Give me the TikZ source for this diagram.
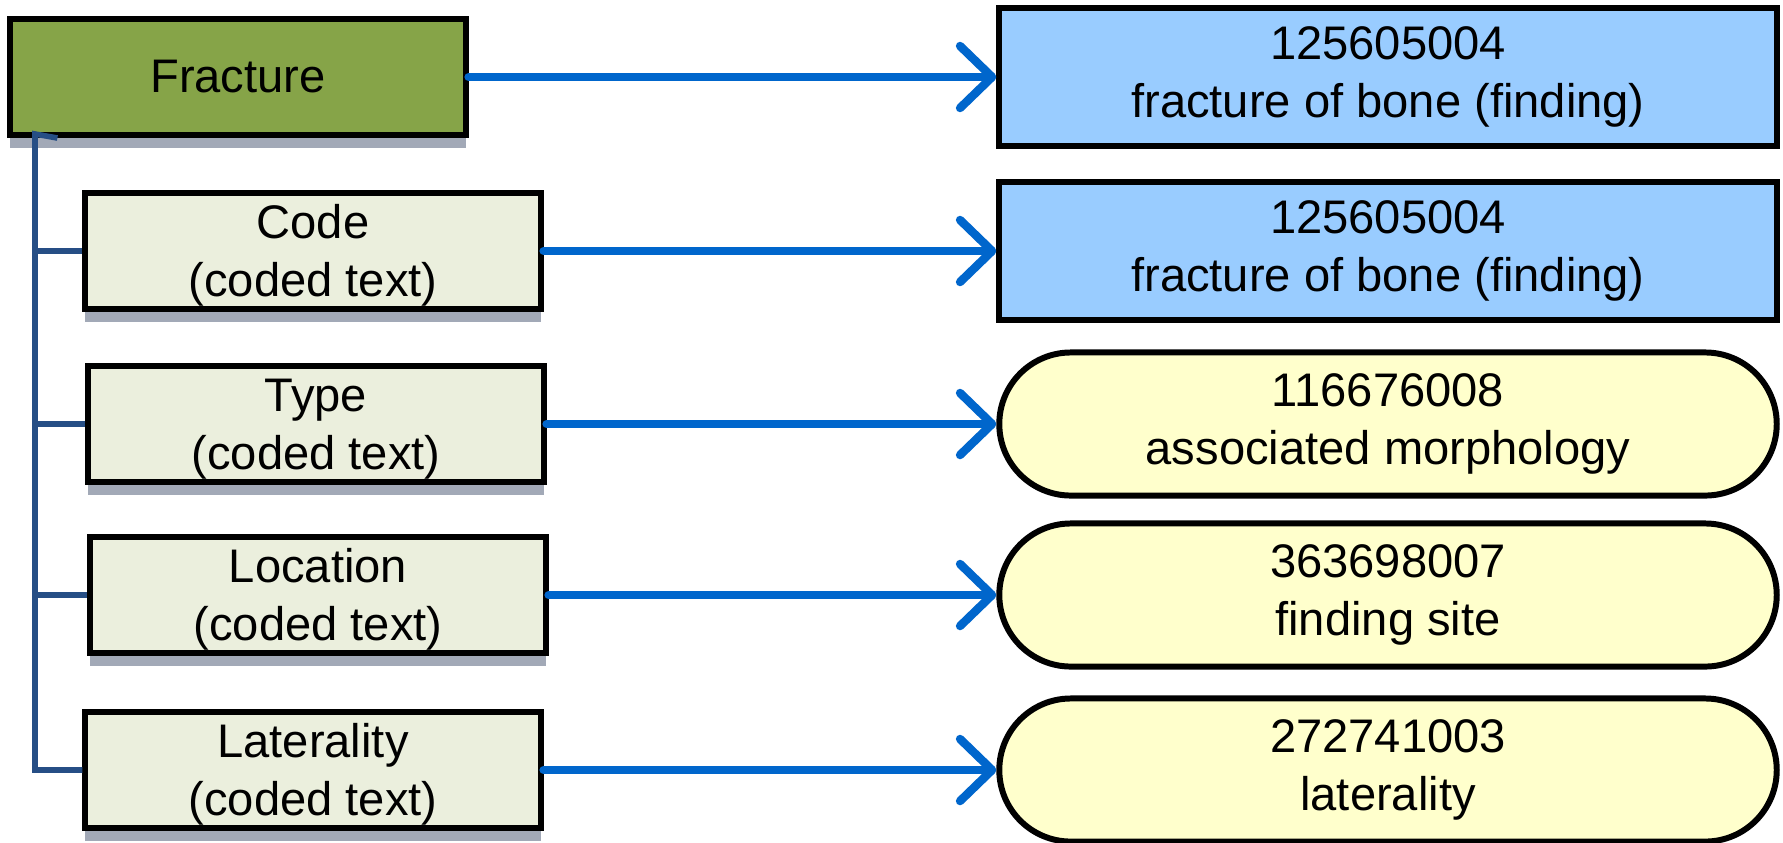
\documentclass[tikz,border=0pt]{standalone}
\usepackage{fontspec}
\setmainfont{Liberation Sans}
\usetikzlibrary{arrows.meta,shapes.misc,shadows}

\definecolor{fracgreen}{HTML}{86A448}
\definecolor{attrfill}{HTML}{EBEFDD}
\definecolor{conceptblue}{HTML}{99CCFF}
\definecolor{relyellow}{HTML}{FFFFCC}
\definecolor{boxshadow}{HTML}{A2A9B7}
\definecolor{treeblue}{HTML}{264E85}
\definecolor{linkblue}{HTML}{0066CC}

% first-line strut that lowers two-line labels a little
\newcommand{\lowstrut}{\rule{0pt}{12pt}}

\tikzset{
  labelfont/.style={font=\fontsize{13.4}{16.6}\selectfont, align=center, text=black},
  leftbox/.style={labelfont, rectangle, draw=black, line width=1.7pt,
    minimum width=4.55cm, minimum height=1.16cm, inner sep=0pt,
    drop shadow={shadow xshift=0pt, shadow yshift=-0.13cm, fill=boxshadow, opacity=1}},
  attrbox/.style={leftbox, fill=attrfill},
  conceptbox/.style={labelfont, rectangle, draw=black, line width=1.7pt,
    fill=conceptblue, minimum width=7.77cm, minimum height=1.37cm, inner sep=0pt},
  relpill/.style={labelfont, rounded rectangle, draw=black, line width=1.7pt,
    fill=relyellow, minimum width=7.77cm, minimum height=1.43cm, inner sep=0pt},
  tree/.style={draw=treeblue, line width=1.6pt},
  link/.style={draw=linkblue, line width=2.4pt, line cap=round,
    -{Straight Barb[length=0.32cm, width=0.62cm, line cap=round, line join=round]}}
}

\begin{document}
\begin{tikzpicture}[x=0.01cm, y=-0.01cm]
\useasboundingbox (0,0) rectangle (1783,842);

% archetype element and its coded attributes
\node[leftbox, fill=fracgreen] (frac) at (238,77) {Fracture};
\node[attrbox] (code) at (313,251) {\lowstrut Code\\(coded text)};
\node[attrbox] (type) at (316,424) {\lowstrut Type\\(coded text)};
\node[attrbox] (loc)  at (318,595) {\lowstrut Location\\(coded text)};
\node[attrbox] (lat)  at (313,770) {\lowstrut Laterality\\(coded text)};

% terminology targets
\node[conceptbox] (c1) at (1388,77)  {125605004\\fracture of bone (finding)};
\node[conceptbox] (c2) at (1388,251) {125605004\\fracture of bone (finding)};
\node[relpill] (r1) at (1388,424) {116676008\\associated morphology};
\node[relpill] (r2) at (1388,595) {363698007\\finding site};
\node[relpill] (r3) at (1388,770) {272741003\\laterality};

% containment tree
\coordinate (spine) at (35,134);
\draw[tree] ([xshift=0.5cm]frac.south west) -- (spine) |- (lat.west);
\foreach \n in {code,type,loc}
  \draw[tree] (spine |- \n.west) -- (\n.west);

% bindings
\draw[link] (frac.east) -- (c1.west);
\draw[link] (code.east) -- (c2.west);
\draw[link] (type.east) -- (r1.west);
\draw[link] (loc.east)  -- (r2.west);
\draw[link] (lat.east)  -- (r3.west);
\end{tikzpicture}
\end{document}
